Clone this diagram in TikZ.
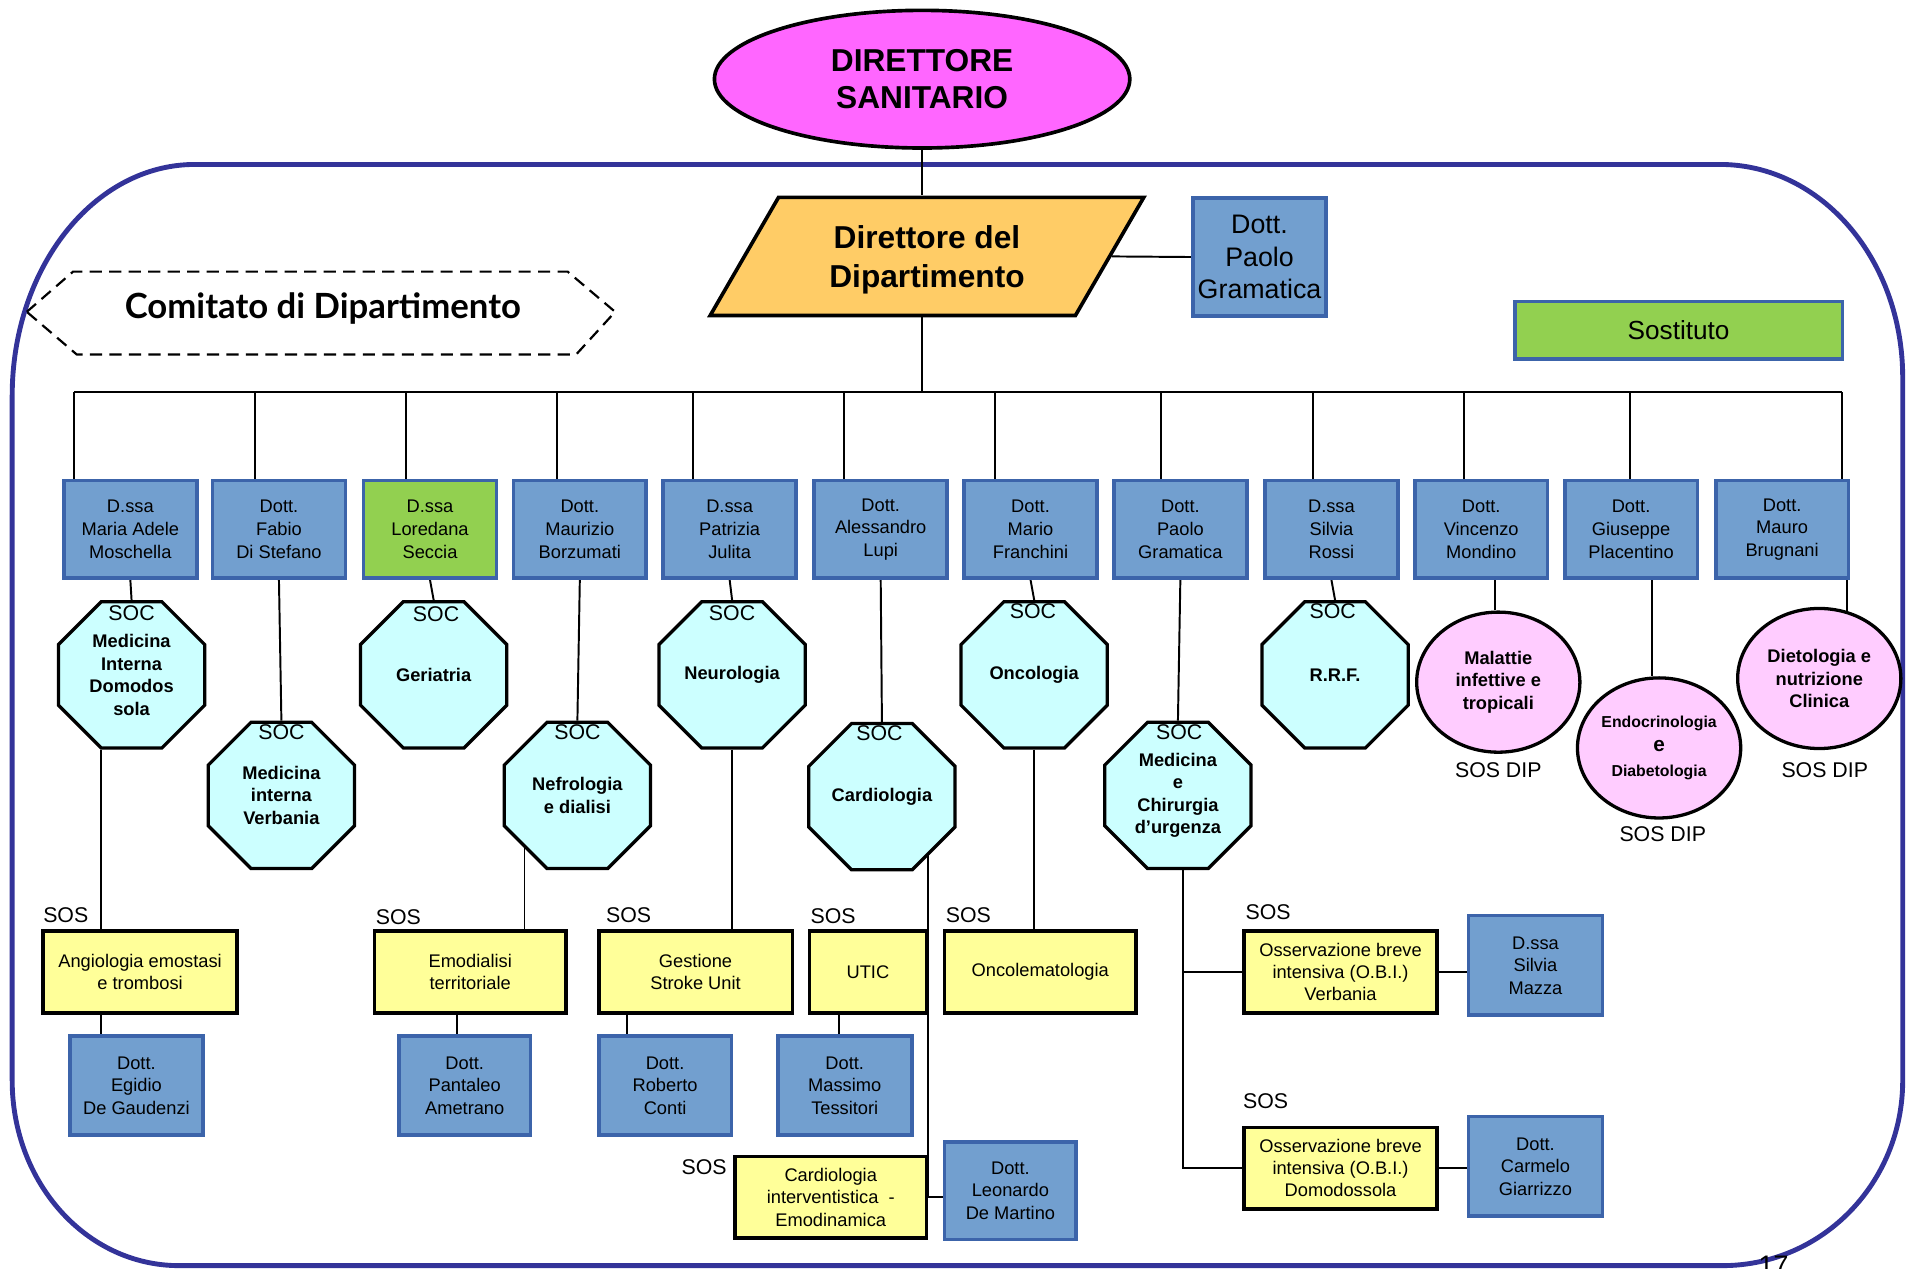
\documentclass[tikz,border=0pt]{standalone}
\usepackage{fontspec}
\setmainfont{Liberation Sans}
\newfontfamily\comfont{Lato}
\usetikzlibrary{shapes.geometric,backgrounds}
\definecolor{magfill}{HTML}{FF66FF}
\definecolor{orangefill}{HTML}{FFCC66}
\definecolor{bluefill}{HTML}{729FCF}
\definecolor{bluebord}{HTML}{3C64AA}
\definecolor{greenfill}{HTML}{92D050}
\definecolor{cyanfill}{HTML}{CCFFFF}
\definecolor{pinkfill}{HTML}{FFCCFF}
\definecolor{yelfill}{HTML}{FFFF99}
\definecolor{framecol}{HTML}{333399}
\newcommand{\mysmall}{\fontsize{15}{18.5}\selectfont}
\newcommand{\mybold}{\bfseries\fontsize{15}{18.5}\selectfont}
\newcommand{\mylab}{\fontsize{17.5}{20}\selectfont}
\begin{document}
\begin{tikzpicture}[x=1pt,y=-1pt,
  conn/.style={draw=black, line width=1.6pt},
  bluebox/.style={draw=bluebord, fill=bluefill, line width=3pt, inner sep=0pt, align=center, font=\mysmall},
  topbox/.style={bluebox, minimum width=109pt, minimum height=80pt},
  lowbox/.style={bluebox, minimum width=109pt, minimum height=81pt},
  octa/.style={regular polygon, regular polygon sides=8, minimum size=130pt, draw=black, line width=2.7pt, fill=cyanfill, inner sep=0pt, align=center, font=\mybold},
  dipc/.style={ellipse, draw=black, line width=2.7pt, fill=pinkfill, inner sep=0pt, align=center, font=\mybold, minimum width=134pt, minimum height=115pt},
  sosbox/.style={draw=black, line width=3pt, fill=yelfill, inner sep=0pt, align=center, font=\mysmall, minimum height=67pt},
  lab/.style={inner sep=0pt, font=\mylab},
  framestyle/.style={draw=framecol, line width=4pt}
]
\useasboundingbox (0,0) rectangle (1568,1041);

% top
\node[ellipse, draw=black, line width=3pt, fill=magfill, minimum width=341pt, minimum height=113pt, inner sep=0pt, align=center, font=\bfseries\fontsize{26}{31}\selectfont] (dir) at (757,65) {DIRETTORE\\SANITARIO};
\node[trapezium, trapezium left angle=54, trapezium right angle=126, trapezium stretches=true, minimum width=357pt, minimum height=97pt, draw=black, line width=3pt, fill=orangefill, inner sep=0pt, text depth=0pt, align=center, font=\bfseries\fontsize{26}{32}\selectfont] (dip) at (761,210.5) {Direttore del\\Dipartimento};
\node[bluebox, minimum width=109pt, minimum height=97pt, font=\fontsize{22}{26.5}\selectfont] (pgr) at (1034,211) {Dott.\\Paolo\\Gramatica};
\node[bluebox, fill=greenfill, minimum width=269pt, minimum height=47pt, font=\fontsize{21.5}{24}\selectfont] (sost) at (1378,271) {Sostituto};
\node[inner sep=0pt, font=\comfont\bfseries\fontsize{28.5}{30}\selectfont] (com) at (265,253) {Comitato di Dipartimento};
\draw[line width=1.8pt, dash pattern=on 10pt off 6pt] (22,256) -- (60,223) -- (466,223) -- (505,256) -- (473,291) -- (63,291) -- cycle;

% top row boxes
\node[topbox] (b1) at (107,434.5) {D.ssa\\Maria Adele\\Moschella};
\node[topbox] (b2) at (229,434.5) {Dott.\\Fabio\\Di Stefano};
\node[topbox, fill=greenfill] (b3) at (353,434.5) {D.ssa\\Loredana\\Seccia};
\node[topbox] (b4) at (476,434.5) {Dott.\\Maurizio\\Borzumati};
\node[topbox] (b5) at (599,434.5) {D.ssa\\Patrizia\\Julita};
\node[topbox] (b6) at (723,434.5) {Dott.\\Alessandro\\Lupi};
\node[topbox] (b7) at (846,434.5) {Dott.\\Mario\\Franchini};
\node[topbox] (b8) at (969,434.5) {Dott.\\Paolo\\Gramatica};
\node[topbox] (b9) at (1093,434.5) {D.ssa\\Silvia\\Rossi};
\node[topbox] (b10) at (1216,434.5) {Dott.\\Vincenzo\\Mondino};
\node[topbox] (b11) at (1339,434.5) {Dott.\\Giuseppe\\Placentino};
\node[topbox] (b12) at (1463,434.5) {Dott.\\Mauro\\Brugnani};

% octagons
\node[octa] (o1) at (108,554) {Medicina\\Interna\\Domodos\\sola};
\node[octa] (o2) at (231,653) {Medicina\\interna\\Verbania};
\node[octa] (o3) at (356,554) {Geriatria};
\node[octa] (o4) at (474,653) {Nefrologia\\e dialisi};
\node[octa] (o5) at (601,554) {Neurologia};
\node[octa] (o6) at (724,654) {Cardiologia};
\node[octa] (o7) at (849,554) {Oncologia};
\node[octa] (o8) at (967,653) {Medicina\\e\\Chirurgia\\d’urgenza};
\node[octa] (o9) at (1096,554) {R.R.F.};
\node[lab] (soc1) at (108,503) {SOC};
\node[lab] (soc2) at (231,601) {SOC};
\node[lab] (soc3) at (358,504) {SOC};
\node[lab] (soc4) at (474,601) {SOC};
\node[lab] (soc5) at (601,503) {SOC};
\node[lab] (soc6) at (722,602) {SOC};
\node[lab] (soc7) at (848,502) {SOC};
\node[lab] (soc8) at (968,601) {SOC};
\node[lab] (soc9) at (1094,502) {SOC};

% circles
\node[dipc] (c1) at (1230,560) {Malattie\\infettive e\\tropicali};
\node[dipc, font=\bfseries\fontsize{13}{20.5}\selectfont] (c2) at (1362,614) {Endocrinologia\\{\fontsize{17}{20.5}\selectfont e}\\Diabetologia};
\node[dipc] (c3) at (1493.5,557) {Dietologia e\\nutrizione\\Clinica};
\node[lab] (sd1) at (1230,632) {SOS DIP};
\node[lab] (sd2) at (1365,685) {SOS DIP};
\node[lab] (sd3) at (1498,632) {SOS DIP};

% SOS boxes
\node[sosbox, minimum width=159pt] (s1) at (115,798) {Angiologia emostasi\\e trombosi};
\node[sosbox, minimum width=157pt] (s2) at (386,798) {Emodialisi\\territoriale};
\node[sosbox, minimum width=159pt] (s3) at (571,798) {Gestione\\Stroke Unit};
\node[sosbox, minimum width=96pt] (s4) at (712.5,798) {UTIC};
\node[sosbox, minimum width=157pt] (s6) at (854,798) {Oncolematologia};
\node[sosbox, minimum width=158pt, font=\fontsize{15}{18}\selectfont] (s7) at (1100.5,798) {Osservazione breve\\intensiva (O.B.I.)\\Verbania};
\node[sosbox, minimum width=158pt, font=\fontsize{15}{18}\selectfont] (s8) at (1100.5,959) {Osservazione breve\\intensiva (O.B.I.)\\Domodossola};
\node[sosbox, minimum width=157pt] (s5) at (682,983) {Cardiologia\\interventistica~~-\\Emodinamica};
\node[lab] (l1) at (54,751) {SOS};
\node[lab] (l2) at (327,753) {SOS};
\node[lab] (l3) at (516,751) {SOS};
\node[lab] (l4) at (684,752) {SOS};
\node[lab] (l6) at (795,751) {SOS};
\node[lab] (l7) at (1041,749) {SOS};
\node[lab] (l8) at (1039,904) {SOS};
\node[lab] (l5) at (578,958) {SOS};

% lower blue boxes
\node[lowbox] (eg) at (112,891) {Dott.\\Egidio\\De Gaudenzi};
\node[lowbox, minimum width=108pt] (pa) at (381.5,891) {Dott.\\Pantaleo\\Ametrano};
\node[lowbox] (ro) at (546,891) {Dott.\\Roberto\\Conti};
\node[lowbox, minimum width=110pt] (ma) at (693.5,891) {Dott.\\Massimo\\Tessitori};
\node[lowbox, minimum width=108pt, minimum height=80pt] (dm) at (829.5,977.5) {Dott.\\Leonardo\\De Martino};
\node[lowbox, minimum width=110pt, minimum height=82pt] (sm) at (1260.5,792.5) {D.ssa\\Silvia\\Mazza};
\node[lowbox, minimum width=110pt, minimum height=82pt] (cg) at (1260.5,957.5) {Dott.\\Carmelo\\Giarrizzo};

\node[inner sep=0pt, anchor=base, font=\fontsize{22}{22}\selectfont] (pnum) at (1456,1046) {17};

\begin{scope}[on background layer]
\draw[framestyle] (160,135) -- (1412,135) .. controls (1495,135) and (1562,213) .. (1562,310) -- (1562,887) .. controls (1562,971) and (1496,1039) .. (1414,1039) -- (147,1039) .. controls (71,1039) and (10,971) .. (10,887) -- (10,325) .. controls (10,220) and (77,135) .. (160,135) -- cycle;
\coordinate (bus) at (757,322);
\coordinate (busL) at (61,322);
\coordinate (busR) at (1512,322);
\draw[conn] (dir.south) -- (dir.south |- dip.north);
\draw[conn] (dir.south |- dip.south) -- (bus);
\draw[conn] (dip.east) -- (pgr.west);
\draw[conn] (busL) -- (busR);
\foreach \i/\x in {1/61,2/209,3/333,4/457,5/569,6/693,7/817,8/953,9/1078,10/1202,11/1338,12/1512}{
  \coordinate (d\i) at (\x,322);
  \draw[conn] (d\i) -- (d\i |- b\i.north);
}
\draw[conn] (b1.south) -- (o1.north);
\draw[conn] (b2.south) -- (o2.north);
\draw[conn] (b3.south) -- (o3.north);
\draw[conn] (b4.south) -- (o4.north);
\draw[conn] (b5.south) -- (o5.north);
\draw[conn] (b6.south) -- (o6.north);
\draw[conn] (b7.south) -- (o7.north);
\draw[conn] (b8.south) -- (o8.north);
\draw[conn] (b9.south) -- (o9.north);
\draw[conn] ([xshift=-3pt]c1.north) -- ([xshift=-3pt]c1.north |- b10.south);
\draw[conn] ([xshift=-6pt]c2.north) -- ([xshift=-6pt]c2.north |- b11.south);
\draw[conn] (c3.68) -- (c3.68 |- b12.south);
\draw[conn] (o1.corner 5) -- (o1.corner 5 |- eg.north);
\draw[conn] (o4.side 4) -- (o4.side 4 |- s2.north);
\draw[conn] ([xshift=-6pt]pa.north) -- ([xshift=-6pt]pa.north |- s2.south);
\draw[conn] (o5.south) -- (o5.south |- s3.north);
\draw[conn] ([xshift=25pt]ro.north west) -- ([xshift=25pt]ro.north west |- s3.south);
\draw[conn] ([xshift=-5pt]ma.north) -- ([xshift=-5pt]ma.north |- s4.south);
\draw[conn] (s5.east |- o6.center) -- (s5.east) -- (dm.west |- s5.east);
\draw[conn] (o7.south) -- (o7.south |- s6.north);
\draw[conn] ([xshift=4pt]o8.south) -- ([xshift=4pt]o8.south |- s8.west) -- (s8.west);
\draw[conn] ([xshift=4pt]o8.south |- s7.west) -- (s7.west);
\draw[conn] (s7.east) -- (s7.east -| sm.west);
\draw[conn] (s8.east) -- (s8.east -| cg.west);
\end{scope}
\end{tikzpicture}
\end{document}
